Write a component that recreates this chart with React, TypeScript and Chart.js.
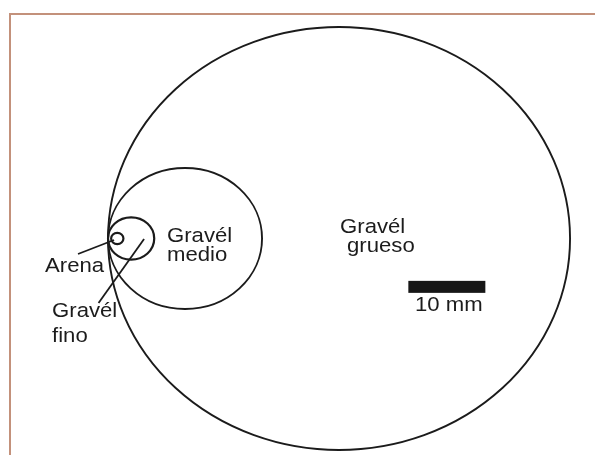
import React, { useEffect, useRef } from "react";
import { Chart, registerables } from "chart.js";

Chart.register(...registerables);

// Grain-size circles (mm), all touching on the left
const circleNames = ["Arena", "Gravél fino", "Gravél medio", "Gravél grueso"];
const circleCentersX = [1.2, 3, 10, 30];
const circleCentersY = [0, 0, 0, 0];
const circleRadii = [0.8, 3, 10, 30];

// Leader lines (mm)
const arenaLine = [
  { x: -3.9, y: -2.2 },
  { x: 0.78, y: -0.21 },
];
const finoLine = [
  { x: -1.23, y: -9.15 },
  { x: 4.68, y: -0.07 },
];

// Text labels: text, anchor (left, baseline) in mm
const labelTexts = ["Arena", "Gravél", "fino", "Gravél", "medio", "Gravél", "grueso", "10 mm"];
const labelX = [-8.18, -7.27, -7.27, 7.66, 7.66, 30.13, 31.04, 39.87];
const labelY = [-4.75, -11.1, -14.7, -0.5, -3.26, 0.85, -1.87, -10.28];

// Scale bar (mm)
const scaleBarFrom = 39;
const scaleBarTo = 49;
const scaleBarY = -6.86;

const INK = "#1b1b1b";

export default function App() {
  const ref = useRef<HTMLCanvasElement | null>(null);

  useEffect(() => {
    if (!ref.current) return;
    const drawPlugin = {
      id: "grainDraw",
      beforeDraw(chart: any) {
        const ctx = chart.ctx;
        ctx.save();
        ctx.fillStyle = "#ffffff";
        ctx.fillRect(0, 0, chart.width, chart.height);
        ctx.fillStyle = "#c3917b";
        ctx.fillRect(9, 13, chart.width, 2);
        ctx.fillRect(9, 13, 2, chart.height);
        ctx.restore();
      },
      afterDatasetsDraw(chart: any) {
        const ctx = chart.ctx;
        const xs = chart.scales.x;
        const ys = chart.scales.y;
        ctx.save();
        ctx.strokeStyle = INK;
        for (let i = 0; i < circleRadii.length; i++) {
          const cx = xs.getPixelForValue(circleCentersX[i]);
          const cy = ys.getPixelForValue(circleCentersY[i]);
          const rx = xs.getPixelForValue(circleCentersX[i] + circleRadii[i]) - cx;
          const ry = cy - ys.getPixelForValue(circleCentersY[i] + circleRadii[i]);
          ctx.lineWidth = i < 2 ? 2.2 : 1.9;
          ctx.beginPath();
          ctx.ellipse(cx, cy, rx, ry, 0, 0, Math.PI * 2);
          ctx.stroke();
        }
        // scale bar
        const bx0 = xs.getPixelForValue(scaleBarFrom);
        const bx1 = xs.getPixelForValue(scaleBarTo);
        const by = ys.getPixelForValue(scaleBarY);
        ctx.fillStyle = "#161616";
        ctx.fillRect(bx0, by - 6, bx1 - bx0, 12);
        // labels
        ctx.fillStyle = "#1c1c1c";
        ctx.font = "20.5px 'Liberation Sans', Arial, sans-serif";
        ctx.textBaseline = "alphabetic";
        ctx.textAlign = "left";
        for (let i = 0; i < labelTexts.length; i++) {
          const px = xs.getPixelForValue(labelX[i]);
          const py = ys.getPixelForValue(labelY[i]);
          ctx.save();
          ctx.translate(px, py);
          ctx.scale(1.08, 1);
          ctx.fillText(labelTexts[i], 0, 0);
          ctx.restore();
        }
        ctx.restore();
      },
    };

    const chart = new Chart(ref.current, {
      type: "scatter",
      data: {
        datasets: [
          {
            label: "Arena",
            data: arenaLine,
            showLine: true,
            borderColor: INK,
            borderWidth: 1.8,
            pointRadius: 0,
          },
          {
            label: "Gravél fino",
            data: finoLine,
            showLine: true,
            borderColor: INK,
            borderWidth: 1.8,
            pointRadius: 0,
          },
        ],
      },
      options: {
        responsive: false,
        animation: false,
        devicePixelRatio: 1,
        layout: { padding: 0 },
        plugins: {
          legend: { display: false },
          tooltip: { enabled: false },
        },
        scales: {
          x: { type: "linear", display: false, min: -14.03, max: 63.24 },
          y: { type: "linear", display: false, min: -30.71, max: 33.83 },
        },
      },
      plugins: [drawPlugin],
    } as any);
    return () => chart.destroy();
  }, []);

  return (
    <div style={{ position: "absolute", left: 0, top: 0, width: 595, height: 455, background: "#fff" }}>
      <canvas ref={ref} width={595} height={455} style={{ display: "block" }} />
    </div>
  );
}
